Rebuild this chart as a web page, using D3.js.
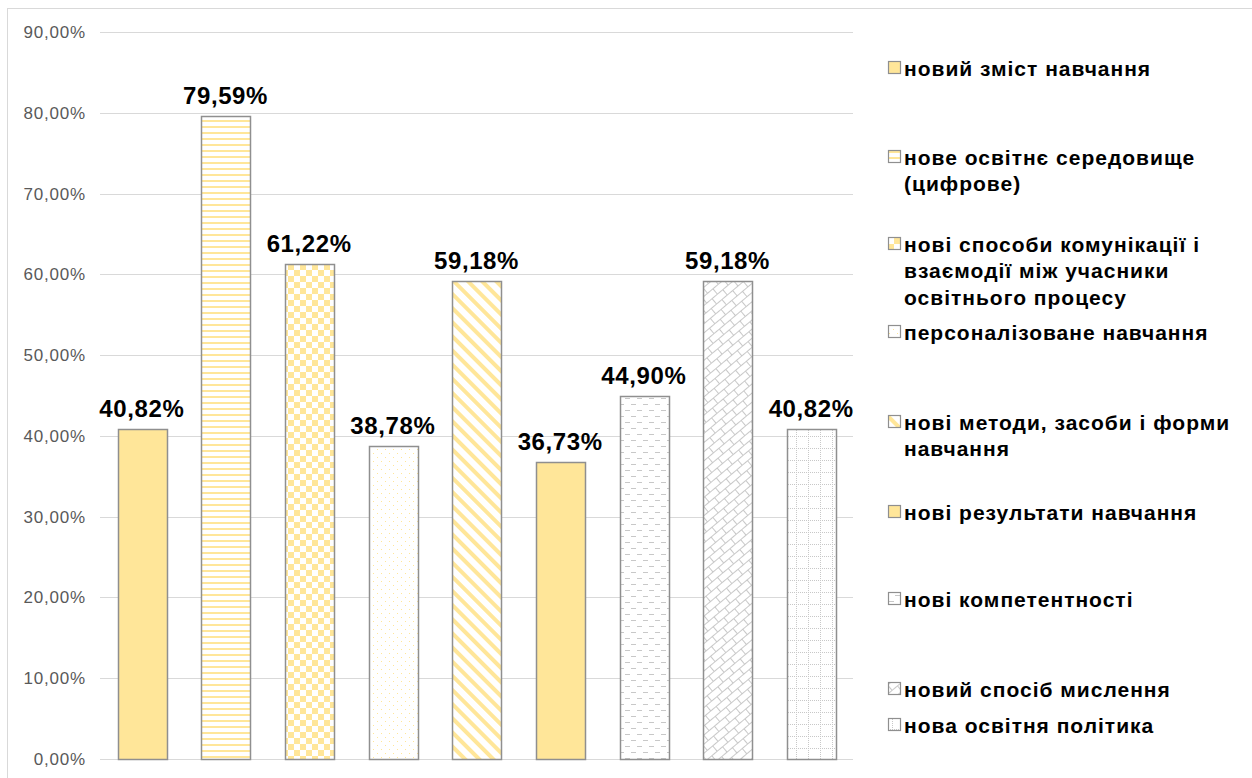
<!DOCTYPE html>
<html>
<head>
<meta charset="utf-8">
<script src="https://cdn.jsdelivr.net/npm/d3@7/dist/d3.min.js"></script>
<style>
  html, body { margin: 0; padding: 0; background: #fff; }
  svg { display: block; font-family: "Liberation Sans", Arial, sans-serif; }
</style>
</head>
<body>
<svg id="chart" width="1252" height="778"></svg>
<script>
// Categories (one per bar / legend entry)
const categories = [
  "новий зміст навчання",
  "нове освітнє середовище (цифрове)",
  "нові способи комунікації і взаємодії між учасники освітнього процесу",
  "персоналізоване навчання",
  "нові методи, засоби і форми навчання",
  "нові результати навчання",
  "нові компетентності",
  "новий спосіб мислення",
  "нова освітня політика"
];
// Legend lines as wrapped in the legend
const legendLines = [
  ["новий зміст навчання"],
  ["нове освітнє середовище", "(цифрове)"],
  ["нові способи комунікації і", "взаємодії між учасники", "освітнього процесу"],
  ["персоналізоване навчання"],
  ["нові методи, засоби і форми", "навчання"],
  ["нові результати навчання"],
  ["нові компетентності"],
  ["новий спосіб мислення"],
  ["нова освітня політика"]
];
// Share of respondents, %
const values = [40.82, 79.59, 61.22, 38.78, 59.18, 36.73, 44.90, 59.18, 40.82];
// Y axis ticks, %
const yTicks = [0, 10, 20, 30, 40, 50, 60, 70, 80, 90];
// Fill pattern for each bar
const fills = ["solid", "hlines", "checker", "dots", "diag", "solid", "dashes", "brick", "grid"];

const gold = "#FFE699";
const greyPat = "#c8c8c8";
const fmt = v => v.toFixed(2).replace(".", ",") + "%";

const svg = d3.select("#chart");

// ---- pattern definitions ----
const defs = svg.append("defs");
function pat(id, w, h) {
  const p = defs.append("pattern").attr("id", id).attr("patternUnits", "userSpaceOnUse")
    .attr("width", w).attr("height", h);
  p.append("rect").attr("width", w).attr("height", h).attr("fill", "#fff");
  return p;
}
// horizontal lines
pat("hlines", 6, 6).append("rect").attr("x", 0).attr("y", 0).attr("width", 6).attr("height", 2).attr("fill", gold);
// checkerboard
{
  const p = pat("checker", 12, 12);
  p.append("rect").attr("x", 0).attr("y", 0).attr("width", 6).attr("height", 6).attr("fill", gold);
  p.append("rect").attr("x", 6).attr("y", 6).attr("width", 6).attr("height", 6).attr("fill", gold);
}
// sparse dots
{
  const p = pat("dots", 8, 8);
  p.append("rect").attr("x", 1).attr("y", 1).attr("width", 1).attr("height", 1).attr("fill", gold);
  p.append("rect").attr("x", 5).attr("y", 5).attr("width", 1).attr("height", 1).attr("fill", gold);
}
// wide diagonal stripes (\ direction)
{
  const p = defs.append("pattern").attr("id", "diag").attr("patternUnits", "userSpaceOnUse")
    .attr("width", 10).attr("height", 10).attr("patternTransform", "rotate(-45)");
  p.append("rect").attr("width", 10).attr("height", 10).attr("fill", "#fff");
  p.append("rect").attr("x", 0).attr("y", 0).attr("width", 4).attr("height", 10).attr("fill", gold);
}
// dashed horizontal lines
{
  const p = pat("dashes", 12, 12);
  p.append("rect").attr("x", 1).attr("y", 2).attr("width", 5).attr("height", 1).attr("fill", greyPat);
  p.append("rect").attr("x", 7).attr("y", 8).attr("width", 5).attr("height", 1).attr("fill", greyPat);
}
// diagonal brick
{
  const p = defs.append("pattern").attr("id", "brick").attr("patternUnits", "userSpaceOnUse")
    .attr("width", 14).attr("height", 14).attr("patternTransform", "rotate(-40)");
  p.append("rect").attr("width", 14).attr("height", 14).attr("fill", "#fff");
  p.append("path").attr("d", "M0,0.5H14M0,7.5H14M3.5,0V7M10.5,7V14")
    .attr("stroke", greyPat).attr("stroke-width", 1).attr("fill", "none");
}
// dotted grid
{
  const p = pat("grid", 12, 12);
  for (let i = 0; i < 12; i += 2) {
    p.append("rect").attr("x", i).attr("y", 4).attr("width", 1).attr("height", 1).attr("fill", greyPat);
    p.append("rect").attr("x", 4).attr("y", i).attr("width", 1).attr("height", 1).attr("fill", greyPat);
  }
}

// ---- frame ----
svg.append("rect").attr("x", 7.5).attr("y", 8.5).attr("width", 1252).attr("height", 790)
  .attr("fill", "none").attr("stroke", "#d9d9d9");

// ---- scales ----
const x = d3.scaleBand().domain(categories).range([100, 853]).paddingInner(0.42).paddingOuter(0.21);
const y = d3.scaleLinear().domain([0, 90]).range([759, 32]);

// gridlines
svg.append("g").selectAll("line").data(yTicks).join("line")
  .attr("x1", 100).attr("x2", 853)
  .attr("y1", d => Math.round(y(d)) + 0.5).attr("y2", d => Math.round(y(d)) + 0.5)
  .attr("stroke", "#d9d9d9").attr("stroke-width", 1);

// y axis labels
const yAxis = d3.axisLeft(y).tickValues(yTicks).tickSize(0).tickPadding(0)
  .tickFormat(d => d.toFixed(2).replace(".", ",") + "%");
const gy = svg.append("g").attr("transform", "translate(86,0)").call(yAxis);
gy.select(".domain").remove();
gy.selectAll("text").attr("fill", "#595959").style("font-size", "17px")
  .style("letter-spacing", "0.8px")
  .style("font-family", "'Liberation Sans', Arial, sans-serif");

// bars
const fillOf = f => f === "solid" ? gold : `url(#${f})`;
svg.append("g").selectAll("rect").data(categories).join("rect")
  .attr("x", d => Math.round(x(d)) + 0.5)
  .attr("y", (d, i) => Math.round(y(values[i])) + 0.5)
  .attr("width", Math.round(x.bandwidth()))
  .attr("height", (d, i) => Math.round(y(0)) - Math.round(y(values[i])))
  .attr("fill", (d, i) => fillOf(fills[i]))
  .attr("stroke", "#8f8f8f").attr("stroke-width", 1.5);

// value labels
svg.append("g").selectAll("text").data(categories).join("text")
  .attr("x", d => x(d) + x.bandwidth() / 2)
  .attr("y", (d, i) => y(values[i]) - 12)
  .attr("text-anchor", "middle")
  .attr("font-size", 24).attr("font-weight", "bold").attr("fill", "#000")
  .style("letter-spacing", "0.6px")
  .text((d, i) => fmt(values[i]));

// legend
const legendY = [68, 157, 244, 332, 422, 512, 599, 689, 725];
const lg = svg.append("g");
legendLines.forEach((lines, i) => {
  const g = lg.append("g").attr("transform", `translate(0,${legendY[i]})`);
  g.append("rect").attr("x", 888.5).attr("y", -6.5).attr("width", 12).attr("height", 12)
    .attr("fill", fillOf(fills[i])).attr("stroke", "#8f8f8f").attr("stroke-width", 1.2);
  const t = g.append("text").attr("x", 904).attr("y", 7.5)
    .attr("font-size", 21).attr("font-weight", "bold").attr("fill", "#000")
    .style("letter-spacing", "1px");
  lines.forEach((ln, j) => {
    t.append("tspan").attr("x", 904).attr("dy", j === 0 ? 0 : 26.5).text(ln);
  });
});
</script>
</body>
</html>
